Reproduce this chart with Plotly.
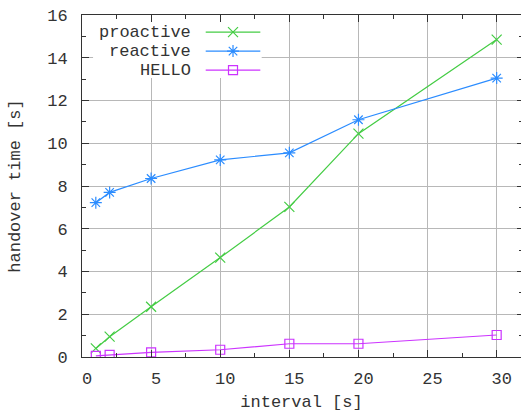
import plotly.graph_objects as go

# ---- data ----
intervals = [1, 2, 5, 10, 15, 20, 30]
proactive = [0.4, 0.95, 2.35, 4.65, 7.02, 10.45, 14.85]
reactive = [7.22, 7.7, 8.35, 9.22, 9.55, 11.1, 13.05]
hello = [0.05, 0.1, 0.22, 0.34, 0.62, 0.62, 1.03]

series_names = ["proactive", "reactive", "HELLO"]
series_values = [proactive, reactive, hello]
colors = ["#44cc44", "#2b8cff", "#cc33ff"]
symbols = ["x-thin-open", "asterisk-open", "square-open"]
marker_sizes = [10, 10, 9]

x_title = "interval [s]"
y_title = "handover time [s]"
x_ticks = [0, 5, 10, 15, 20, 25, 30]
y_ticks = [0, 2, 4, 6, 8, 10, 12, 14, 16]

FONT = "Liberation Mono"
FS = 17
TXT = "#333333"
GRID = "#b8b8b8"
AX = "#333333"

fig = go.Figure()

for name, vals, col, sym, ms in zip(series_names, series_values, colors, symbols, marker_sizes):
    fig.add_trace(go.Scatter(
        x=intervals, y=vals, mode="lines+markers", name=name,
        line=dict(color=col, width=1.2),
        marker=dict(symbol=sym, size=ms, color=col, line=dict(color=col, width=1.2)),
        showlegend=False,
    ))

# legend (gnuplot style: text left, sample right), placed in data units
key_text_x = 8.05
key_line_x0, key_line_x1 = 8.95, 12.9
key_rows = [15.2, 14.31, 13.42]
fig.add_shape(type="rect", xref="x", yref="y", x0=0.8, x1=13.0, y0=13.05, y1=16,
              fillcolor="white", line=dict(width=0), layer="between")
for name, col, sym, ms, ry in zip(series_names, colors, symbols, marker_sizes, key_rows):
    fig.add_trace(go.Scatter(
        x=[key_line_x0, (key_line_x0 + key_line_x1) / 2, key_line_x1], y=[ry, ry, ry],
        mode="lines", line=dict(color=col, width=1.2), showlegend=False, hoverinfo="skip"))
    fig.add_trace(go.Scatter(
        x=[(key_line_x0 + key_line_x1) / 2], y=[ry], mode="markers",
        marker=dict(symbol=sym, size=ms, color=col, line=dict(color=col, width=1.2)),
        showlegend=False, hoverinfo="skip"))
    fig.add_annotation(x=key_text_x, y=ry, xref="x", yref="y", text=name, showarrow=False,
                       xanchor="right", yanchor="middle",
                       font=dict(family=FONT, size=FS, color=TXT))

fig.update_layout(
    width=521, height=412,
    margin=dict(l=82, r=0, t=15, b=55),
    paper_bgcolor="white", plot_bgcolor="white",
    font=dict(family=FONT, size=FS, color=TXT),
    showlegend=False,
    xaxis=dict(
        range=[0, 31.76], tickvals=x_ticks, ticktext=[str(v) for v in x_ticks],
        showgrid=True, gridcolor=GRID, gridwidth=1, zeroline=False,
        showline=True, linecolor=AX, linewidth=1, mirror="ticks",
        ticks="inside", ticklen=7, tickcolor=AX, tickwidth=1,
        minor=dict(dtick=2.5, tick0=0, ticks="inside", ticklen=4, tickcolor=AX, showgrid=False),
        ticklabelstandoff=6, ticklabelshift=5,
        title=dict(text=x_title, standoff=10, font=dict(family=FONT, size=FS, color=TXT)),
        automargin=False,
    ),
    yaxis=dict(
        range=[0, 16], tickvals=y_ticks, ticktext=[str(v) for v in y_ticks],
        showgrid=True, gridcolor=GRID, gridwidth=1, zeroline=False,
        showline=True, linecolor=AX, linewidth=1, mirror=False,
        ticks="inside", ticklen=7, tickcolor=AX, tickwidth=1,
        minor=dict(dtick=1, tick0=0, ticks="inside", ticklen=4, tickcolor=AX, showgrid=False),
        ticklabelstandoff=10,
        title=dict(text=y_title, standoff=22, font=dict(family=FONT, size=FS, color=TXT)),
        automargin=False,
    ),
    yaxis2=dict(
        overlaying="y", side="right", matches="y", range=[0, 16], tickvals=y_ticks,
        showgrid=False, zeroline=False, showline=False, showticklabels=False,
        ticks="inside", ticklen=4, tickcolor=AX,
        minor=dict(dtick=1, tick0=0, ticks="inside", ticklen=2, tickcolor=AX, showgrid=False),
    ),
)
fig.add_trace(go.Scatter(x=[], y=[], yaxis="y2", showlegend=False))

fig.write_html("out.html")
